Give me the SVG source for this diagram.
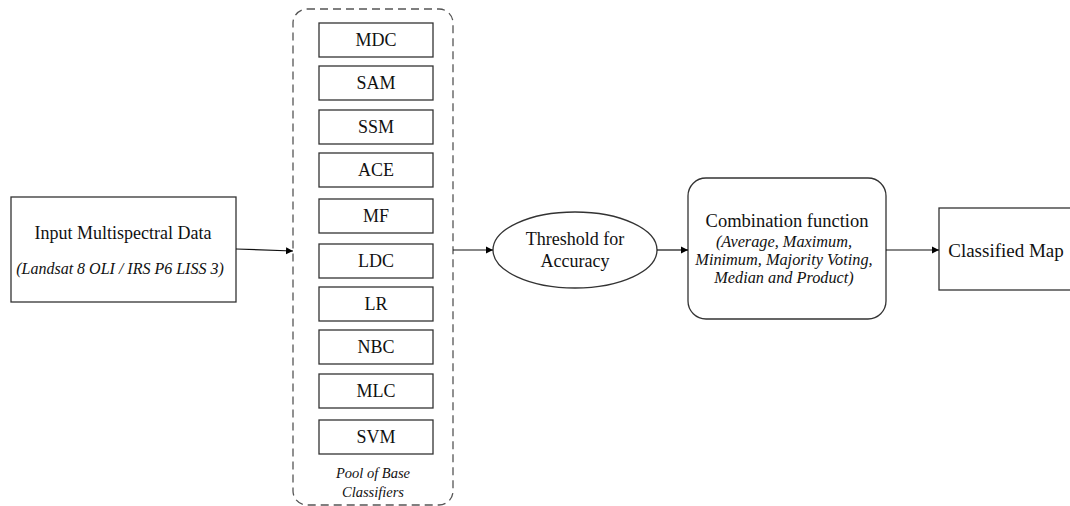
<svg xmlns="http://www.w3.org/2000/svg" width="1070" height="506" viewBox="0 0 1070 506">
<defs>
<marker id="arr" markerWidth="8" markerHeight="8" refX="7" refY="4" orient="auto" markerUnits="userSpaceOnUse">
<path d="M0,0.5 L7,4 L0,7.5 Z" fill="#000"/>
</marker>
</defs>
<style>
.box{fill:#fff;stroke:#333;stroke-width:1.3}
.t{font-family:"Liberation Serif","Times New Roman",serif;fill:#111;text-anchor:middle}
.c{font-size:18px}
.i{font-style:italic}
.ln{stroke:#111;stroke-width:1.2;fill:none}
</style>
<rect width="1070" height="506" fill="#fff"/>
<g id="input">
<rect class="box" x="11" y="197" width="225" height="105"/>
<text class="t" x="123" y="239" font-size="18">Input Multispectral Data</text>
<text class="t i" x="120" y="274" font-size="16">(Landsat 8 OLI / IRS P6 LISS 3)</text>
</g>
<g id="pool">
<rect x="293" y="9" width="160" height="496" rx="14" fill="none" stroke="#555" stroke-width="1.3" stroke-dasharray="8,5"/>
<text class="t i" x="373" y="478" font-size="14.5">Pool of Base</text>
<text class="t i" x="373" y="497" font-size="14.5">Classifiers</text>
</g>
<g id="mdc"><rect class="box" x="319" y="23" width="114" height="34"/><text class="t c" x="376" y="46">MDC</text></g>
<g id="sam"><rect class="box" x="319" y="66" width="114" height="34"/><text class="t c" x="376" y="89">SAM</text></g>
<g id="ssm"><rect class="box" x="319" y="110" width="114" height="34"/><text class="t c" x="376" y="133">SSM</text></g>
<g id="ace"><rect class="box" x="319" y="153" width="114" height="34"/><text class="t c" x="376" y="176">ACE</text></g>
<g id="mf"><rect class="box" x="319" y="199" width="114" height="34"/><text class="t c" x="376" y="222">MF</text></g>
<g id="ldc"><rect class="box" x="319" y="244" width="114" height="34"/><text class="t c" x="376" y="267">LDC</text></g>
<g id="lr"><rect class="box" x="319" y="287" width="114" height="34"/><text class="t c" x="376" y="310">LR</text></g>
<g id="nbc"><rect class="box" x="319" y="330" width="114" height="34"/><text class="t c" x="376" y="353">NBC</text></g>
<g id="mlc"><rect class="box" x="319" y="374" width="114" height="34"/><text class="t c" x="376" y="397">MLC</text></g>
<g id="svm"><rect class="box" x="319" y="420" width="114" height="34"/><text class="t c" x="376" y="443">SVM</text></g>
<g id="threshold">
<ellipse class="box" cx="575" cy="250" rx="82" ry="38"/>
<text class="t" x="575" y="245" font-size="18">Threshold for</text>
<text class="t" x="575" y="267" font-size="18">Accuracy</text>
</g>
<g id="combination">
<rect class="box" x="688" y="178" width="198" height="141" rx="18"/>
<text class="t" x="787" y="227" font-size="18.5">Combination function</text>
<text class="t i" x="784" y="247" font-size="16.3">(Average, Maximum,</text>
<text class="t i" x="784" y="265" font-size="16.3">Minimum, Majority Voting,</text>
<text class="t i" x="784" y="283" font-size="16.3">Median and Product)</text>
</g>
<g id="classified">
<rect class="box" x="939" y="208" width="140" height="82"/>
<text class="t" x="1006" y="257" font-size="19">Classified Map</text>
</g>
<g id="connectors">
<line class="ln" x1="236" y1="249" x2="293" y2="251" marker-end="url(#arr)"/>
<line class="ln" x1="453" y1="250" x2="493" y2="250" marker-end="url(#arr)"/>
<line class="ln" x1="657" y1="250" x2="688" y2="250" marker-end="url(#arr)"/>
<line class="ln" x1="886" y1="250" x2="939" y2="250" marker-end="url(#arr)"/>
</g>
</svg>
